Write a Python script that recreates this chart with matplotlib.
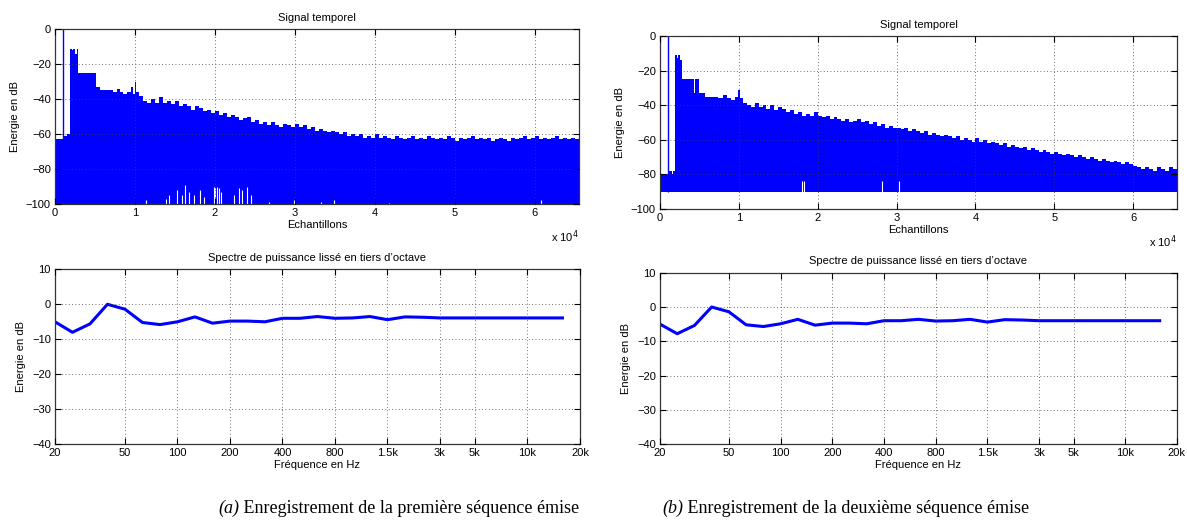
import matplotlib
matplotlib.use("Agg")
import matplotlib.pyplot as plt
import numpy as np

plt.rcParams['font.family'] = ['Liberation Sans', 'DejaVu Sans']

# --- Signal temporel : enveloppe (echantillons, dB) ---
# debut (zone des sequences emises)
a_early_pos = [0, 1030, 1500, 1850, 2100, 2300, 2500, 2700, 2850, 5100, 5650, 7200,
               7800, 8100, 8500, 9000, 9500, 9700, 9950, 10100]
a_early_top = [-63, -61, -60, -11, -12, -11, -14, -11, -25, -33, -35, -36,
               -34, -36, -37, -36, -33, -37, -30, -36]
b_early_pos = [0, 1060, 1500, 1700, 1900, 2100, 2300, 2600, 2750, 4350, 4420, 5000,
               5700, 7400, 8000, 8500, 9000, 9500, 9900, 10100]
b_early_top = [-80, -78, -80, -78, -11, -13, -11, -14, -25, -33, -25, -33,
               -35, -36, -34, -36, -37, -35, -31, -36]

# decroissance, releve tous les 500 echantillons a partir de 10500
a_tail = [-38, -41, -42, -40, -42, -39, -42, -41, -43, -41, -44, -43, -44, -46, -44, -45,
          -47, -46, -48, -47, -49, -48, -50, -49, -50, -52, -51, -50, -53, -52, -54, -53,
          -55, -53, -55, -56, -54, -55, -56, -54, -56, -55, -57, -56, -58, -57, -58, -59,
          -58, -59, -60, -59, -61, -60, -61, -60, -62, -61, -62, -60, -62, -61, -62, -63,
          -61, -62, -63, -62, -61, -63, -62, -63, -61, -62, -63, -62, -63, -61, -62, -64,
          -62, -63, -62, -61, -63, -62, -63, -62, -64, -63, -62, -63, -64, -62, -63, -62,
          -61, -63, -62, -61, -63, -62, -63, -62, -61, -63, -62, -63, -62, -63, -64]
b_tail = [-39, -40, -41, -39, -41, -40, -42, -40, -43, -41, -42, -44, -43, -45, -44, -46,
          -45, -46, -44, -46, -47, -46, -48, -47, -48, -49, -48, -50, -49, -48, -50, -49,
          -51, -50, -52, -51, -53, -52, -53, -53, -54, -53, -55, -54, -55, -56, -55, -57,
          -56, -57, -58, -57, -58, -59, -58, -60, -59, -60, -61, -59, -61, -60, -62, -61,
          -62, -63, -62, -64, -63, -64, -65, -64, -66, -65, -66, -67, -66, -67, -68, -67,
          -68, -69, -68, -69, -70, -69, -70, -71, -70, -71, -72, -71, -72, -73, -72, -73,
          -74, -73, -74, -75, -76, -77, -76, -77, -78, -76, -77, -78, -76, -77, -78]

# pic isole a 0 dB
a_spike = [962]
b_spike = [1017]

# trous blancs en bas du signal (echantillon, sommet en dB)
a_gap_pos = [11420, 13890, 14230, 15270, 15900, 16320, 16740, 17360, 18200, 18620, 19870,
             20080, 20290, 20500, 20710, 22380, 23010, 23430, 24060, 24480, 26780, 29920,
             33250, 34920, 41800, 60850]
a_gap_top = [-98, -97, -95, -92, -95, -89, -93, -95, -92, -96, -90,
             -91, -90, -91, -93, -95, -91, -92, -90, -95, -99, -98,
             -99, -98, -99.5, -98]
b_gap_pos = [18050, 18300, 28170, 30280]
b_gap_top = [-84, -84, -84, -84]

a_floor = -100
b_floor = -90

# --- Spectre en tiers d'octave ---
bands = [20, 25, 31.5, 40, 50, 63, 80, 100, 125, 160, 200, 250, 315, 400, 500, 630, 800,
         1000, 1250, 1600, 2000, 2500, 3150, 4000, 5000, 6300, 8000, 10000, 12500, 16000, 20000]
spec_a = [-5.0, -8.0, -5.6, 0.0, -1.4, -5.2, -5.8, -5.0, -3.6, -5.4, -4.8, -4.8, -5.0, -4.0,
          -4.0, -3.5, -4.0, -3.9, -3.5, -4.4, -3.6, -3.7, -3.9, -3.9, -3.9, -3.9, -3.9, -3.9,
          -3.9, -3.9]
spec_b = [-5.0, -7.8, -5.4, 0.0, -1.4, -5.2, -5.7, -4.9, -3.6, -5.3, -4.7, -4.7, -4.9, -4.0,
          -4.0, -3.6, -4.1, -4.0, -3.6, -4.4, -3.7, -3.8, -4.0, -4.0, -4.0, -4.0, -4.0, -4.0,
          -4.0, -4.0]
tick_freqs = [20, 50, 100, 200, 400, 800, 1600, 3150, 5000, 10000, 20000]
tick_names = ['20', '50', '100', '200', '400', '800', '1.5k', '3k', '5k', '10k', '20k']

captions = [('(a)', 'Enregistrement de la premi\u00e8re s\u00e9quence \u00e9mise'),
            ('(b)', 'Enregistrement de la deuxi\u00e8me s\u00e9quence \u00e9mise')]

n_samples = 65536
fs = 8

fig = plt.figure(figsize=(11.87, 5.23), dpi=100)


def style(ax):
    ax.grid(True, color='0.25', linestyle=(0, (1, 3)), linewidth=0.6)
    ax.set_axisbelow(False)
    ax.tick_params(direction='in', top=True, right=True, length=4, width=0.8,
                   labelsize=fs, pad=3)
    for s in ax.spines.values():
        s.set_linewidth(0.9)
        s.set_color('0.2')


def signal(rect, early_pos, early_top, tail, spike, gap_pos, gap_top, floor):
    ax = fig.add_axes(rect)
    pos = list(early_pos) + list(10500 + 500 * np.arange(len(tail))) + [n_samples]
    top = list(early_top) + list(tail) + [tail[-1]]
    ax.fill_between(pos, floor, top, step='post', color='b', linewidth=0)
    ax.vlines(spike, floor, 0, color='b', linewidth=1.0)
    ax.vlines(gap_pos, floor, gap_top, color='white', linewidth=0.8)
    ax.set_xlim(0, n_samples)
    ax.set_ylim(-100, 0)
    ax.set_xticks([0, 10000, 20000, 30000, 40000, 50000, 60000])
    ax.set_xticklabels(['0', '1', '2', '3', '4', '5', '6'])
    ax.set_yticks([0, -20, -40, -60, -80, -100])
    ax.set_yticklabels(['0', '\u221220', '\u221240', '\u221260', '\u221280', '\u2212100'])
    ax.set_title('Signal temporel', fontsize=fs, pad=6)
    ax.set_xlabel('Echantillons', fontsize=fs, labelpad=1)
    ax.set_ylabel('Energie en dB', fontsize=fs, labelpad=4)
    ax.text(1.0, -0.19, 'x 10$^4$', transform=ax.transAxes, ha='right', va='center',
            fontsize=fs)
    style(ax)
    return ax


def spectre(rect, values):
    ax = fig.add_axes(rect)
    idx = np.arange(len(values))
    ax.plot(idx, values, color='b', linewidth=2.2, solid_joinstyle='round')
    ax.set_xlim(0, len(bands) - 1)
    ax.set_ylim(-40, 10)
    ax.set_xticks([bands.index(f) for f in tick_freqs])
    ax.set_xticklabels(tick_names)
    ax.set_yticks([10, 0, -10, -20, -30, -40])
    ax.set_yticklabels(['10', '0', '\u221210', '\u221220', '\u221230', '\u221240'])
    ax.set_title("Spectre de puissance liss\u00e9 en tiers d\u2019octave", fontsize=fs, pad=6)
    ax.set_xlabel('Fr\u00e9quence en Hz', fontsize=fs, labelpad=1)
    ax.set_ylabel('Energie en dB', fontsize=fs, labelpad=4)
    style(ax)
    return ax


signal([0.0463, 0.610, 0.4414, 0.334], a_early_pos, a_early_top, a_tail, a_spike,
       a_gap_pos, a_gap_top, a_floor)
signal([0.556, 0.6004, 0.4355, 0.3308], b_early_pos, b_early_top, b_tail, b_spike,
       b_gap_pos, b_gap_top, b_floor)
spectre([0.0463, 0.1505, 0.4423, 0.3346], spec_a)
spectre([0.556, 0.151, 0.4355, 0.3275], spec_b)

# legendes des sous-figures
renderer = fig.canvas.get_renderer()
for x0, (lab, txt) in zip([218, 662], captions):
    t1 = fig.text(x0 / 1187, 0.02, lab, fontsize=13, family='Liberation Serif',
                  style='italic', ha='left', va='baseline')
    w1 = t1.get_window_extent(renderer).width
    fig.text((x0 + w1) / 1187, 0.02, ' ' + txt, fontsize=13, family='Liberation Serif',
             ha='left', va='baseline')

fig.savefig('out.png', dpi=100)
